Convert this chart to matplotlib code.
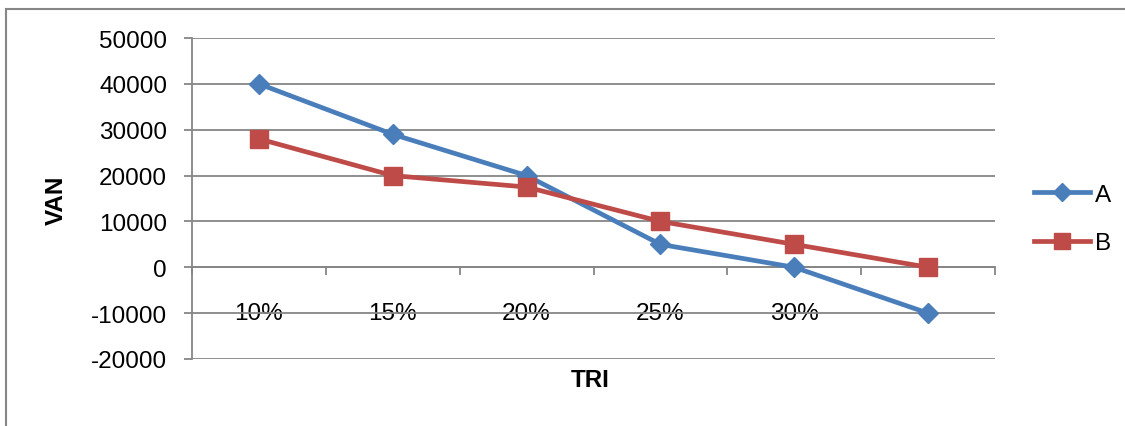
import matplotlib
matplotlib.use("Agg")
import matplotlib.pyplot as plt
from matplotlib.patches import Rectangle
from matplotlib.ticker import FixedLocator, NullFormatter

categories = ["10%", "15%", "20%", "25%", "30%", ""]
series_a = [40000, 29000, 20000, 5000, 0, -10000]
series_b = [28000, 20000, 17500, 10000, 5000, 0]
yticks = [-20000, -10000, 0, 10000, 20000, 30000, 40000, 50000]

plt.rcParams['font.family'] = ['Liberation Sans', 'DejaVu Sans']
FS = 17.5
BLUE = '#4A7EBB'
RED = '#BE4B48'
GRID = '#868686'

fig = plt.figure(figsize=(11.25, 4.27), dpi=100)
fig.patches.append(Rectangle((6/1125, -0.1), 1.2, 1 - 10/427 + 0.1, transform=fig.transFigure,
                             fill=False, edgecolor=GRID, linewidth=1.5, zorder=0))

ax = fig.add_axes([192/1125, 1 - 360/427, (995 - 192)/1125, (360 - 39)/427])
x = list(range(1, len(categories) + 1))

ax.plot(x, series_a, color=BLUE, linewidth=3.4, marker='D', markersize=10.5,
        markerfacecolor=BLUE, markeredgecolor=BLUE, label='A', zorder=3)
ax.plot(x, series_b, color=RED, linewidth=3.4, marker='s', markersize=13.5,
        markerfacecolor=RED, markeredgecolor=RED, label='B', zorder=3)

ax.set_xlim(0.5, len(categories) + 0.5)
ax.set_ylim(-20000, 50000)
ax.set_yticks(yticks)
ax.set_yticklabels([str(v) for v in yticks], fontsize=FS)
ax.yaxis.grid(True, color=GRID, linewidth=1.3)
ax.set_axisbelow(True)

for s in ['top', 'right']:
    ax.spines[s].set_visible(False)
ax.spines['left'].set_color(GRID)
ax.spines['left'].set_linewidth(1.3)
ax.spines['bottom'].set_position(('data', 0))
ax.spines['bottom'].set_color(GRID)
ax.spines['bottom'].set_linewidth(1.3)

ax.tick_params(axis='y', length=6, width=1.3, color=GRID, pad=12)
ax.xaxis.set_major_locator(FixedLocator([i + 0.5 for i in range(0, len(categories) + 1)]))
ax.xaxis.set_major_formatter(NullFormatter())
ax.xaxis.set_minor_locator(FixedLocator(x))
ax.set_xticklabels(categories, minor=True, fontsize=FS)
ax.tick_params(axis='x', which='major', length=6, width=1.3, color=GRID, direction='out')
ax.tick_params(axis='x', which='minor', length=0, pad=25)

ax.set_ylabel('VAN', fontsize=FS, fontweight='bold')
ax.yaxis.set_label_coords(-(192 - 68) / (995 - 192), (360 - 200) / (360 - 39))
fig.text(590/1125, 1 - 381/427, 'TRI', fontsize=FS, fontweight='bold', ha='center', va='center')

fig.legend(loc='center left', bbox_to_anchor=(1034/1125, 1 - 220/427), frameon=False,
           fontsize=FS, handlelength=2.3, handletextpad=0.2, labelspacing=1.1,
           borderpad=0, borderaxespad=0, numpoints=1, markerscale=0.85)

fig.savefig('out.png', dpi=100)
